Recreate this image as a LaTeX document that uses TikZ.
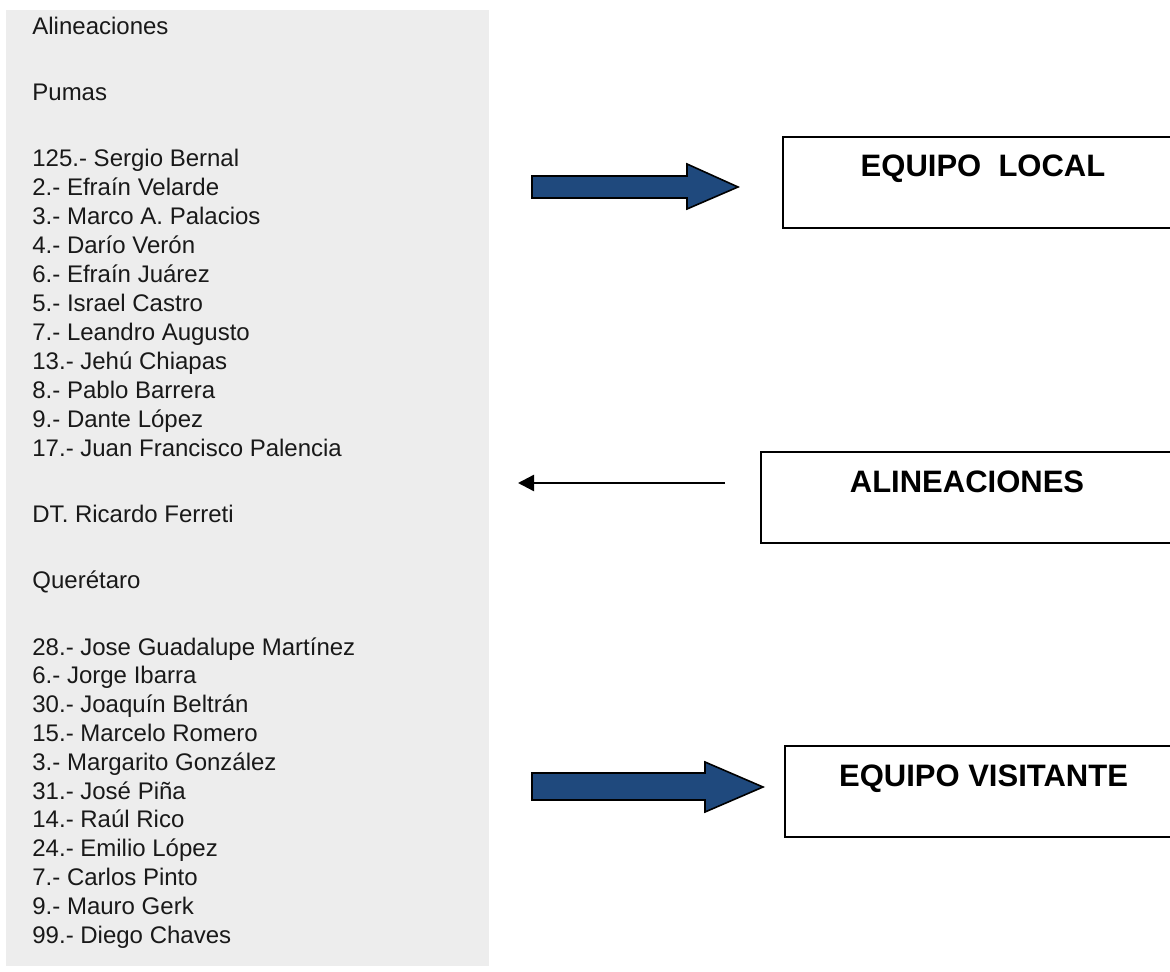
\documentclass[tikz,border=0pt]{standalone}
\usepackage{fontspec}
\setmainfont{Liberation Sans}
\usetikzlibrary{arrows.meta}

\definecolor{panelgray}{RGB}{237,237,237}
\definecolor{arrowblue}{RGB}{31,73,125}

\begin{document}
\begin{tikzpicture}[x=0.5pt, y=-0.5pt,
    player/.style={anchor=base west, inner sep=0pt, text=black!90, font=\fontsize{12}{14}\selectfont},
    teambox/.style={draw, anchor=base, line width=1pt, inner sep=0pt, text height=20pt, text depth=25.5pt,
      font=\fontsize{15.5}{18}\selectfont\bfseries},
    fatarrow/.style={fill=arrowblue, draw=black, line width=0.8pt, line join=miter}]
    \useasboundingbox (0, 0) rectangle (1170, 972);
    \fill[panelgray] (6, 10) rectangle (489, 966);

    \node[player] (title) at (32, 35) {Alineaciones};
    \node[player] (pumas) at (32, 101) {Pumas};
    \foreach \name [count=\i from 0] in {125.- Sergio Bernal, 2.- Efraín Velarde,
        3.- Marco A. Palacios, 4.- Darío Verón, 6.- Efraín Juárez, 5.- Israel Castro,
        7.- Leandro Augusto, 13.- Jehú Chiapas, 8.- Pablo Barrera, 9.- Dante López,
        17.- Juan Francisco Palencia}
      \node[player] (p\i) at (32, 167 + 28.9*\i) {\name};
    \node[player] (dt) at (32, 522) {DT. Ricardo Ferreti};
    \node[player] (queretaro) at (32, 588) {Querétaro};
    \foreach \name [count=\i from 0] in {28.- Jose Guadalupe Martínez, 6.- Jorge Ibarra,
        30.- Joaquín Beltrán, 15.- Marcelo Romero, 3.- Margarito González, 31.- José Piña,
        14.- Raúl Rico, 24.- Emilio López, 7.- Carlos Pinto, 9.- Mauro Gerk,
        99.- Diego Chaves}
      \node[player] (q\i) at (32, 655 + 28.8*\i) {\name};

    % boxes
    \node[teambox, minimum width=200pt] (local) at (983, 177) {EQUIPO\ \ LOCAL};
    \node[teambox, minimum width=206pt] (alin) at (967, 492) {ALINEACIONES};
    \node[teambox, minimum width=199pt] (visit) at (983.5, 786) {EQUIPO VISITANTE};

    % arrows
    \draw[fatarrow] (532, 176) -- (687, 176) -- (687, 164) -- (738, 187)
      -- (687, 209) -- (687, 198) -- (532, 198) -- cycle;
    \draw[fatarrow] (532, 773) -- (705, 773) -- (705, 762) -- (763, 787)
      -- (705, 812) -- (705, 800) -- (532, 800) -- cycle;
    \coordinate (alinstart) at (725, 483);
    \coordinate (alinend) at (518, 483);
    \draw[line width=1.2pt, -{Triangle[length=8pt, width=8pt]}] (alinstart) -- (alinend);
  \end{tikzpicture}
\end{document}
